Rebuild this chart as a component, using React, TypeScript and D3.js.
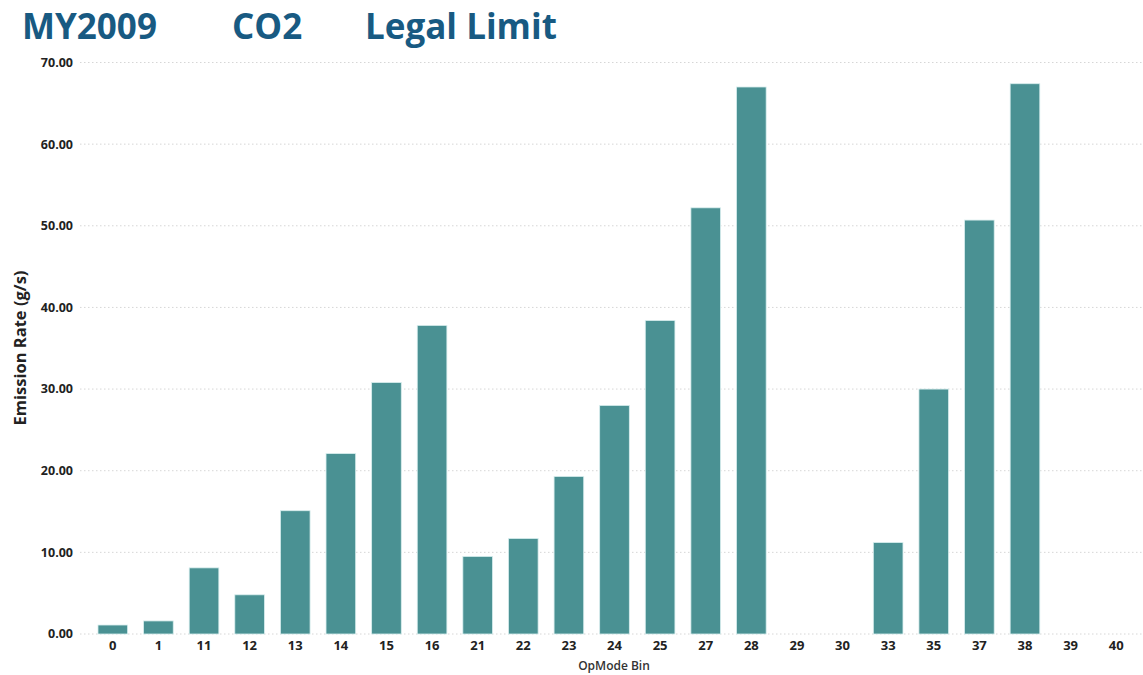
import React from "react";
import * as d3 from "d3";

const categories = ["0","1","11","12","13","14","15","16","21","22","23","24","25","27","28","29","30","33","35","37","38","39","40"];
const values = [1.1,1.6,8.1,4.8,15.1,22.1,30.8,37.8,9.5,11.7,19.3,28.0,38.4,52.2,67.0,0,0,11.2,30.0,50.7,67.4,0,0];
const yTicks = [0,10,20,30,40,50,60,70];
const titleParts = ["MY2009","CO2","Legal Limit"];
const titleX = [22, 232, 365];

export default function App() {
  const W = 1143, H = 675;
  const x = d3.scaleBand<string>().domain(categories).range([90, 1139]).paddingInner(0.35).paddingOuter(0.175);
  const y = d3.scaleLinear().domain([0, 70]).range([634, 62.5]);
  const font = "'Open Sans', 'Noto Sans', sans-serif";
  return (
    <svg width={W} height={H} style={{ position: "absolute", left: 0, top: 0, background: "#fff" }} fontFamily={font}>
      {titleParts.map((t, i) => (
        <text key={t} x={titleX[i]} y={39} fontSize={35} fontWeight={700} fill="#185a82">{t}</text>
      ))}
      {yTicks.map(t => (
        <g key={t}>
          <line x1={80} x2={1143} y1={y(t)} y2={y(t)} stroke="#d6d6d6" strokeWidth={1} strokeDasharray="1.5,2.5" />
          <text x={73} y={y(t)} dy="0.35em" textAnchor="end" fontSize={12.5} fontWeight={700} fill="#222">{t.toFixed(2)}</text>
        </g>
      ))}
      {categories.map((c, i) => (
        values[i] > 0 ? (
          <rect key={c} x={x(c)} y={y(values[i])} width={x.bandwidth()} height={y(0) - y(values[i])} fill="#4a9193" stroke="#d8eeee" strokeWidth={0.8} />
        ) : null
      ))}
      {categories.map(c => (
        <text key={"l" + c} x={(x(c) as number) + x.bandwidth() / 2} y={645} dy="0.35em" textAnchor="middle" fontSize={13} fontWeight={700} fill="#222">{c}</text>
      ))}
      <text x={614} y={666} dy="0.35em" textAnchor="middle" fontSize={12} fontWeight={600} fill="#333">OpMode Bin</text>
      <text transform={`translate(26,348) rotate(-90)`} textAnchor="middle" fontSize={16.5} fontWeight={700} fill="#222">Emission Rate (g/s)</text>
    </svg>
  );
}
